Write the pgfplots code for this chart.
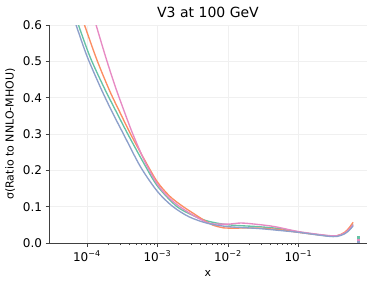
\documentclass[border=0pt]{standalone}
\usepackage{pgfplots}
\pgfplotsset{compat=1.18}
\usepackage{fontspec}
\setmainfont{DejaVu Sans}
\definecolor{sgreen}{HTML}{66C2A5}
\definecolor{sorange}{HTML}{FC8D62}
\definecolor{sblue}{HTML}{8DA0CB}
\definecolor{spink}{HTML}{E78AC3}
\begin{document}
\begin{tikzpicture}
\useasboundingbox (-49pt,-43pt) rectangle (325pt,243pt);
\begin{axis}[
  scale only axis, width=318pt, height=218pt,
  at={(0,0)}, anchor=south west,
  xmode=log, xmin=2.9e-5, xmax=0.94, ymin=0, ymax=0.6,
  axis x line*=bottom, axis y line*=left,
  axis line style={black!75, line width=0.8pt},
  tick align=outside, tick style={black!75, line width=0.6pt},
  major tick length=3.5pt, minor tick length=2pt,
  xtick={1e-4,1e-3,1e-2,1e-1},
  xticklabels={10\textsuperscript{−4},10\textsuperscript{−3},10\textsuperscript{−2},10\textsuperscript{−1}},
  ytick={0,0.1,...,0.6},
  yticklabel style={/pgf/number format/.cd, fixed, fixed zerofill, precision=1, assume math mode=true},
  xticklabel style={yshift=-1pt},
  tick label style={font=\fontsize{12}{14}\selectfont, black},
  grid=major, major grid style={black!6, line width=0.5pt},
  title={V3 at 100 GeV}, title style={font=\fontsize{14}{16}\selectfont, yshift=-2pt},
  xlabel={x}, ylabel={σ(Ratio to NNLO-MHOU)},
  label style={font=\fontsize{11}{13}\selectfont},
  xlabel style={yshift=-2pt}, ylabel style={yshift=1pt},
  every axis plot/.append style={line width=1.35pt, smooth},
  clip=true,
]
\addplot[sgreen] coordinates {
(7.59e-5,0.600) (1.12e-4,0.510) (1.78e-4,0.425) (2.63e-4,0.360) (3.80e-4,0.300) (6.31e-4,0.222)
(1.0e-3,0.157) (1.87e-3,0.101) (3.19e-3,0.076) (5.24e-3,0.060) (1.02e-2,0.050)
(2.68e-2,0.045) (5.77e-2,0.039) (0.103,0.030) (0.254,0.020) (0.352,0.019) (0.45,0.027)
(0.52,0.038) (0.597,0.051)};
\addplot[sorange] coordinates {
(9.25e-5,0.600) (1.38e-4,0.505) (2.09e-4,0.420) (3.02e-4,0.355) (4.16e-4,0.300) (6.61e-4,0.228)
(1.0e-3,0.168) (1.51e-3,0.128) (2.28e-3,0.101) (3.52e-3,0.077) (4.63e-3,0.062) (6.17e-3,0.049)
(8.02e-3,0.043) (1.02e-2,0.041) (2.68e-2,0.041) (5.77e-2,0.036) (0.103,0.029) (0.254,0.020)
(0.352,0.020) (0.45,0.029) (0.52,0.041) (0.597,0.057)};
\addplot[spink] coordinates {
(1.35e-4,0.600) (1.86e-4,0.510) (2.51e-4,0.432) (3.39e-4,0.362) (4.48e-4,0.300) (6.61e-4,0.225)
(1.0e-3,0.162) (1.45e-3,0.125) (2.04e-3,0.101) (3.30e-3,0.075) (4.63e-3,0.060) (5.77e-3,0.053)
(1.02e-2,0.052) (1.55e-2,0.055) (2.68e-2,0.051) (4.63e-2,0.045) (0.103,0.031) (0.254,0.021)
(0.352,0.020) (0.45,0.027) (0.52,0.037) (0.597,0.050)};
\addplot[sblue] coordinates {
(7.03e-5,0.600) (1.0e-4,0.515) (1.585e-4,0.425) (2.29e-4,0.360) (3.30e-4,0.300) (5.75e-4,0.210)
(1.0e-3,0.142) (1.64e-3,0.101) (2.82e-3,0.072) (5.18e-3,0.054) (1.01e-2,0.045)
(2.68e-2,0.040) (5.77e-2,0.034) (0.103,0.029) (0.254,0.019) (0.352,0.018) (0.45,0.025)
(0.52,0.034) (0.597,0.047)};
\addplot[sgreen, line width=2.4pt, smooth=false] coordinates {(0.71,0.012) (0.71,0.019)};
\addplot[spink, line width=2.4pt, smooth=false] coordinates {(0.71,0.005) (0.71,0.012)};
\addplot[sblue, line width=2.4pt, smooth=false] coordinates {(0.71,0.0) (0.71,0.005)};
\end{axis}
\end{tikzpicture}
\end{document}
